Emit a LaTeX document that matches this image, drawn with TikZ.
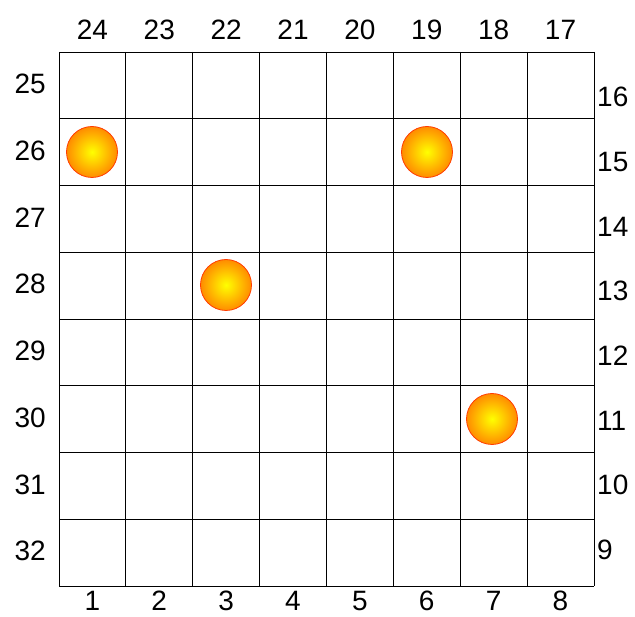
\documentclass[tikz,border=0pt]{standalone}
\usepackage{fontspec}
\setmainfont{Liberation Sans}
\definecolor{ballin}{RGB}{255,255,0}
\definecolor{ballout}{RGB}{255,140,0}
\definecolor{ballrim}{RGB}{255,60,0}
\begin{document}
\begin{tikzpicture}[x=1pt,y=-1pt,
  lab/.style={font=\fontsize{28}{28}\selectfont, inner sep=0pt},
  ball/.style={inner color=ballin, outer color=ballout, draw=ballrim, line width=0.8pt}]
\useasboundingbox (0,0) rectangle (635,617);
\fill[white] (0,0) rectangle (635,617);
% grid
\foreach \i in {0,...,8} {
  \draw[line width=0.9pt] ({59+\i*66.875},52) -- ({59+\i*66.875},586);
  \draw[line width=0.9pt] (59,{52+\i*66.75}) -- (594,{52+\i*66.75});
}
% top labels 24..17
\foreach \i [evaluate=\i as \n using int(24-\i)] in {0,...,7}
  \node[lab] (t\i) at ({92.4+\i*66.875},30) {\n};
% bottom labels 1..8
\foreach \i [evaluate=\i as \n using int(\i+1)] in {0,...,7}
  \node[lab] (b\i) at ({92.4+\i*66.875},601) {\n};
% left labels 25..32
\foreach \i [evaluate=\i as \n using int(25+\i)] in {0,...,7}
  \node[lab, anchor=east] (l\i) at (46,{84+\i*66.75}) {\n};
% right labels 16..9
\foreach \i [evaluate=\i as \n using int(16-\i)] in {0,...,7}
  \node[lab, anchor=west] (r\i) at (597,{97+\i*64.7}) {\n};
% balls
\shade[ball] (92,152) circle (25.5);
\shade[ball] (427,152) circle (25.5);
\shade[ball] (226,285) circle (25.5);
\shade[ball] (492,419) circle (25.5);
\end{tikzpicture}
\end{document}
